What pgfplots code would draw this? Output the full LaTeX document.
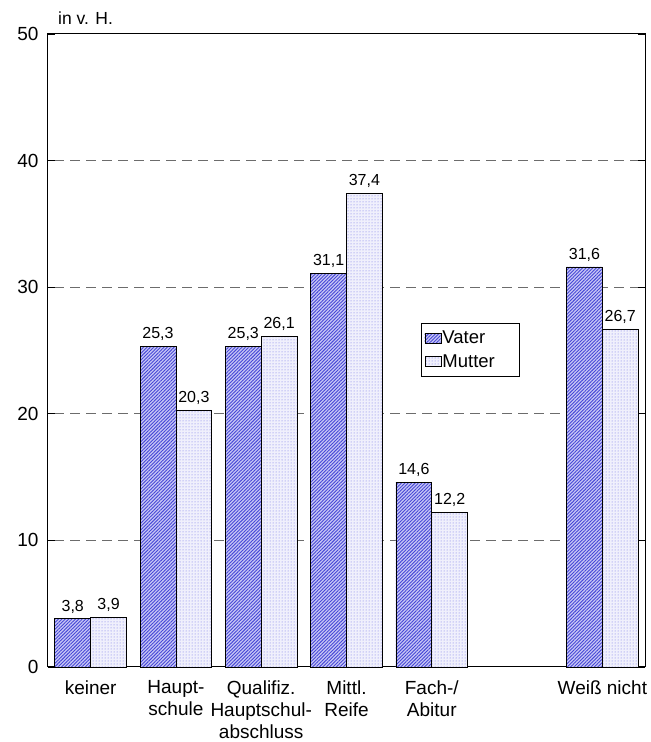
\documentclass[border=0pt]{standalone}
\usepackage{pgfplots}
\pgfplotsset{compat=1.18}
\usepackage{fontspec}
\setmainfont{Liberation Sans}
\usetikzlibrary{patterns.meta}
\definecolor{hatchblue}{RGB}{70,70,215}
\definecolor{vaterbg}{RGB}{200,200,245}
\definecolor{mutterbg}{RGB}{240,240,252}
\definecolor{dotblue}{RGB}{110,110,230}
\begin{document}
\begin{tikzpicture}[x=1pt,y=1pt]
\begin{axis}[
  scale only axis,
  width=597pt, height=633pt,
  xmin=-0.5, xmax=6.5,
  ymin=0, ymax=50,
  ytick={0,10,20,30,40,50},
  xtick={0,1,2,3,4,6},
  xticklabels={keiner,{Haupt-\\schule},{Qualifiz.\\Hauptschul-\\abschluss},{Mittl.\\Reife},{Fach-/\\Abitur},{Weiß nicht}},
  xticklabel style={align=center, font=\fontsize{19}{22}\selectfont, yshift=-3pt},
  yticklabel style={font=\fontsize{19}{21}\selectfont, xshift=-6pt},
  /pgf/number format/assume math mode=true,
  major tick length=7pt,
  tick align=inside,
  xtick style={draw=none},
  ytick style={black, line width=0.8pt},
  ymajorgrids=true,
  grid style={gray!85!black, line width=1pt, dash pattern=on 10pt off 6pt, dash phase=10pt},
  axis line style={black, line width=1pt},
  ybar,
  bar width=0.42,
  nodes near coords,
  nodes near coords style={font=\fontsize{16}{18}\selectfont, yshift=2pt, /pgf/number format/use comma, /pgf/number format/fixed, /pgf/number format/fixed zerofill, /pgf/number format/precision=1},
  legend style={at={(0.625,0.543)}, anchor=north west, draw=black, line width=0.8pt, font=\fontsize{18.5}{21}\selectfont, row sep=6pt, inner xsep=3pt, inner ysep=6pt, nodes={inner sep=1.5pt, text width=72pt}},
  legend cell align=left,
  legend image code/.code={\draw[#1, draw=black, line width=0.4pt] (0pt,-5pt) rectangle (16pt,5pt);},
  clip=false,
]
\addplot[bar shift=-0.21, draw=black, line width=0.8pt, fill=vaterbg, postaction={pattern={Lines[angle=45,distance=2.4pt,line width=0.9pt]}, pattern color=hatchblue}]
  coordinates {(0,3.8) (1,25.3) (2,25.3) (3,31.1) (4,14.6) (6,31.6)};
\addplot[bar shift=0.21, draw=black, line width=0.8pt, fill=mutterbg, postaction={pattern={Dots[distance=3pt, radius=0.5pt]}, pattern color=dotblue}]
  coordinates {(0,3.9) (1,20.3) (2,26.1) (3,37.4) (4,12.2) (6,26.7)};
\legend{Vater,Mutter}
\node[anchor=south west, font=\fontsize{17.5}{19}\selectfont, inner sep=0pt] at ([xshift=10pt,yshift=9pt]rel axis cs:0,1) {in v. H.};
\end{axis}
\path (current axis.south west) ++(-48pt,-75pt);
\path (current axis.north east) ++(6pt,34pt);
\end{tikzpicture}
\end{document}
